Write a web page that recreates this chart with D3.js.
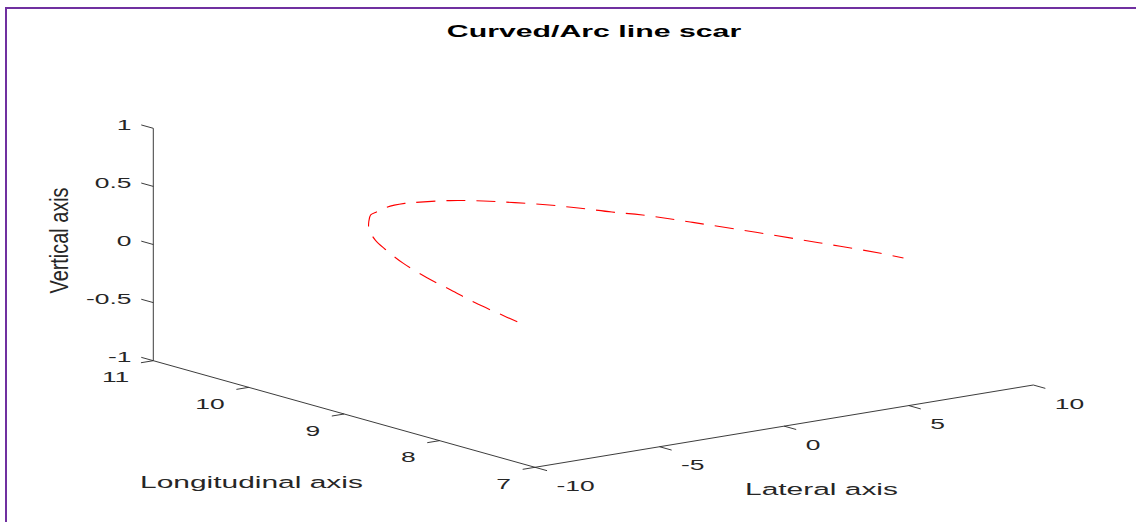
<!DOCTYPE html>
<html>
<head>
<meta charset="utf-8">
<script src="https://cdn.jsdelivr.net/npm/d3@7"></script>
<style>
  html, body { margin: 0; padding: 0; background: #fff; }
  svg { display: block; }
  text { font-family: "Liberation Sans", Arial, Helvetica, sans-serif; }
</style>
</head>
<body>
<svg id="chart"></svg>
<script>
// scar path (it sits on the vertical = 0 plane)
const lateral = [-7.8, -7.55, -7.15, -6.6, -6.1, -5.4, -4.55, -4.0, -3.25, -2.5, -1.85, -1.4, -0.75, 0.05,
  0.55, 1.45, 2.25, 2.9, 3.55, 4.05, 4.5, 5.0, 5.6, 6.3, 6.95, 7.55, 7.7];
const longitudinal = [7.76, 8.0, 8.37, 8.77, 9.15, 9.58, 10.0, 10.24, 10.5, 10.7, 10.85, 10.9, 10.97, 10.99,
  10.96, 10.88, 10.74, 10.58, 10.39, 10.19, 9.98, 9.79, 9.42, 8.94, 8.45, 7.96, 7.76];
const vertical = [0, 0, 0, 0, 0, 0, 0, 0, 0, 0, 0, 0, 0, 0,
  0, 0, 0, 0, 0, 0, 0, 0, 0, 0, 0, 0, 0];

const lateralTicks = [-10, -5, 0, 5, 10];
const longitudinalTicks = [11, 10, 9, 8, 7];
const verticalTicks = [-1, -0.5, 0, 0.5, 1];
const verticalTickLabels = ['-1', '-0.5', '0', '0.5', '1'];

const WIDTH = 1136;
const HEIGHT = 522;
const STRETCH = 1.76; // the picture is stretched sideways, text too
const AXIS_COLOR = '#262626';

const svg = d3.select('#chart')
  .attr('width', WIDTH)
  .attr('height', HEIGHT);

svg.append('rect')
  .attr('width', WIDTH).attr('height', HEIGHT)
  .attr('fill', '#fff');

// purple frame, right and bottom edges run off the picture
svg.append('rect')
  .attr('x', 6).attr('y', 8)
  .attr('width', WIDTH + 20).attr('height', HEIGHT + 20)
  .attr('fill', 'none')
  .attr('stroke', '#7030a0')
  .attr('stroke-width', 2);

// 3d box projection: every data axis has a screen x and a screen y scale
const origin = [153.3, 360.7]; // lateral -10, longitudinal 11, vertical -1
const latX = d3.scaleLinear().domain([-10, 10]).range([0, 498.3]);
const latY = d3.scaleLinear().domain([-10, 10]).range([0, -82.3]);
const lonX = d3.scaleLinear().domain([11, 7]).range([0, 381.7]);
const lonY = d3.scaleLinear().domain([11, 7]).range([0, 106.6]);
const vertY = d3.scaleLinear().domain([-1, 1]).range([0, -232.4]);

function project(lat, lon, z) {
  return [
    origin[0] + latX(lat) + lonX(lon),
    origin[1] + latY(lat) + lonY(lon) + vertY(z)
  ];
}

// unit directions on screen, used for tick marks
function unit(dx, dy) {
  const l = Math.hypot(dx, dy);
  return [dx / l, dy / l];
}
const latDir = unit(latX(10) - latX(-10), latY(10) - latY(-10));
const lonDir = unit(lonX(7) - lonX(11), lonY(7) - lonY(11)); // toward front

const axes = svg.append('g')
  .attr('stroke', AXIS_COLOR)
  .attr('stroke-width', 0.9)
  .attr('fill', 'none');

function segment(p, q) {
  axes.append('line')
    .attr('x1', p[0]).attr('y1', p[1])
    .attr('x2', q[0]).attr('y2', q[1]);
}

// axis lines
segment(project(-10, 11, -1), project(-10, 11, 1));
segment(project(-10, 11, -1), project(-10, 7, -1));
segment(project(-10, 7, -1), project(10, 7, -1));

const TICK = 12.5;

// vertical ticks point back along longitudinal
verticalTicks.forEach(v => {
  const p = project(-10, 11, v);
  segment(p, [p[0] - lonDir[0] * TICK, p[1] - lonDir[1] * TICK]);
});
// longitudinal ticks point toward negative lateral
longitudinalTicks.forEach(v => {
  const p = project(-10, v, -1);
  segment(p, [p[0] - latDir[0] * TICK, p[1] - latDir[1] * TICK]);
});
// lateral ticks point toward the front
lateralTicks.forEach(v => {
  const p = project(v, 7, -1);
  segment(p, [p[0] + lonDir[0] * TICK, p[1] + lonDir[1] * TICK]);
});

// stretched text helper
function label(x, y, txt, anchor, size, weight) {
  svg.append('text')
    .attr('transform', `translate(${x},${y}) scale(${STRETCH},1)`)
    .attr('text-anchor', anchor)
    .attr('font-size', size)
    .attr('font-weight', weight || 'normal')
    .attr('fill', weight ? '#000' : AXIS_COLOR)
    .text(txt);
}

verticalTicks.forEach((v, i) => {
  const p = project(-10, 11, v);
  label(p[0] - 21.8, p[1] + 1.5, verticalTickLabels[i], 'end', 15);
});
longitudinalTicks.forEach(v => {
  const p = project(-10, v, -1);
  label(p[0] - 24, p[1] + 21.5, String(v), 'end', 15);
});
lateralTicks.forEach(v => {
  const p = project(v, 7, -1);
  label(p[0] + 21.5, p[1] + 23.5, String(v), 'start', 15);
});

// axis titles
label(140, 488, 'Longitudinal axis', 'start', 17);
label(745, 495, 'Lateral axis', 'start', 17);

svg.append('text')
  .attr('transform', 'translate(68,240.5) rotate(-90) scale(1,1.5)')
  .attr('text-anchor', 'middle')
  .attr('font-size', 17)
  .attr('fill', AXIS_COLOR)
  .attr('textLength', 106)
  .attr('lengthAdjust', 'spacingAndGlyphs')
  .text('Vertical axis');

label(594, 37, 'Curved/Arc line scar', 'middle', 17.2, 'bold');

// the scar itself
const points = lateral.map((d, i) => project(d, longitudinal[i], vertical[i]));

svg.append('path')
  .datum(points)
  .attr('d', d3.line().curve(d3.curveCatmullRom))
  .attr('fill', 'none')
  .attr('stroke', '#ff0000')
  .attr('stroke-width', 1.1)
  .attr('stroke-dasharray', '19,11');
</script>
</body>
</html>
